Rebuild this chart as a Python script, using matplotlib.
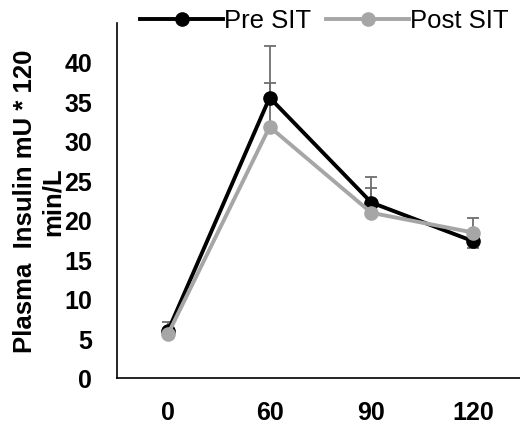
import numpy as np
import matplotlib.pyplot as plt

plt.rcParams['font.family'] = ['Liberation Sans', 'DejaVu Sans']

# dados
tempos = ['0', '60', '90', '120']
pre_sit = [6.0, 35.6, 22.3, 17.4]
post_sit = [5.6, 31.9, 21.0, 18.5]
# barras de erro (baixo, cima)
pre_err_baixo = [0, 0, 0, 0.9]
pre_err_cima = [1.2, 6.6, 3.2, 0]
post_err_baixo = [0, 0, 0, 0]
post_err_cima = [0.4, 5.5, 3.1, 1.9]

x = np.arange(len(tempos))

fig = plt.figure(figsize=(5.2, 4.3), dpi=100)
ax = fig.add_axes([0.225, 0.1198, 0.7827, 0.8256])

# barras de erro atras das linhas
ax.errorbar(x, pre_sit, yerr=[pre_err_baixo, pre_err_cima], fmt='none',
            ecolor='#6e6e6e', elinewidth=1.3, capsize=4.5, capthick=1.3, zorder=1)
ax.errorbar(x, post_sit, yerr=[post_err_baixo, post_err_cima], fmt='none',
            ecolor='#6e6e6e', elinewidth=1.3, capsize=4.5, capthick=1.3, zorder=1)

ax.plot(x, pre_sit, color='black', lw=2.8, marker='o', ms=9.5, label='Pre SIT', zorder=3)
ax.plot(x, post_sit, color='#a6a6a6', lw=2.8, marker='o', ms=9.5, label='Post SIT', zorder=4)

ax.set_xlim(-0.5, 3.5)
ax.set_ylim(0, 45)
ax.set_yticks(range(0, 45, 5))
ax.set_xticks(x)
ax.set_xticklabels(tempos)

for s in ['top', 'right']:
    ax.spines[s].set_visible(False)
ax.spines['left'].set_linewidth(1.2)
ax.spines['bottom'].set_linewidth(1.2)
ax.tick_params(axis='both', length=0, labelsize=18)
ax.tick_params(axis='y', pad=18)
ax.tick_params(axis='x', pad=16)
for t in ax.get_xticklabels() + ax.get_yticklabels():
    t.set_fontweight('bold')

fig.text(0.075, 0.531, 'Plasma  Insulin mU * 120\nmin/L', rotation=90,
         ha='center', va='center', multialignment='center',
         fontsize=18.5, fontweight='bold', linespacing=1.2)

fig.legend(loc='center', bbox_to_anchor=(0.624, 0.951), ncol=2, frameon=False,
           fontsize=18.5, handlelength=3.2, handletextpad=0.05, columnspacing=0.6,
           borderpad=0, borderaxespad=0)

fig.savefig('out.png', dpi=100)
